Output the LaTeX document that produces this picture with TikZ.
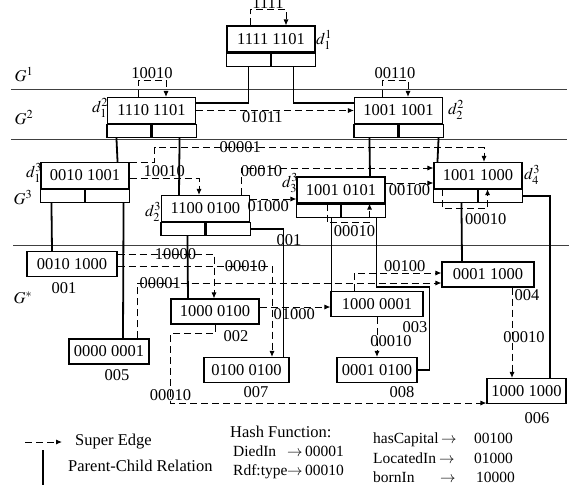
\documentclass[tikz,border=0pt]{standalone}
\usepackage{mathptmx}
\usepackage[no-math]{fontspec}
\setmainfont{Liberation Serif}
\usetikzlibrary{arrows.meta}

\begin{document}
\begin{tikzpicture}[x=1pt, y=-1pt, font=\fontsize{16.5}{19}\selectfont,
    dbox/.style={draw, line width=1.1pt, minimum width=88pt, minimum height=26pt, inner sep=0pt},
    cell/.style={draw, line width=1.1pt, minimum width=44pt, minimum height=13pt, inner sep=0pt},
    vbox/.style={draw, line width=1.1pt, minimum width=80pt, minimum height=25pt, inner sep=0pt},
    se/.style={line width=0.9pt, dash pattern=on 7pt off 4pt, -{Latex[length=6pt,width=5pt]}},
    pc/.style={line width=1.8pt},
    layer/.style={line width=0.8pt, black!75},
    lbl/.style={inner sep=1pt},
    hash/.style={inner sep=0pt, anchor=west, text height=10pt, text depth=3pt, font=\fontsize{15.5}{18}\selectfont}]
  \useasboundingbox (0,0) rectangle (572,488);

  % layers
  \draw[layer] (11,89) -- (567,89);
  \draw[layer] (11,139) -- (567,139);
  \draw[layer] (13,245) -- (569,245);
  \node (g1) at (24,75) {$G^1$};
  \node (g2) at (24,118) {$G^2$};
  \node (g3) at (23,198) {$G^3$};
  \node (gs) at (23,298) {$G^*$};

  % summary nodes with two cells
  \foreach \n/\x/\y/\t in {d11/271/39/1111 1101, d12/151.5/110.5/1110 1101, d22/398.5/110.5/1001 1001,
      d13/85/175.5/0010 1001, d23/205.5/208.5/1100 0100, d33/341/190/1001 0101, d43/478/175.5/1001 1000}{
    \node[dbox] (\n) at (\x,\y) {\t};
    \node[cell, anchor=north east] (\n-l) at (\n.south) {};
    \node[cell, anchor=north west] (\n-r) at (\n.south) {};
  }
  \node[lbl] (n11) at (324,40) {$d_1^1$};
  \node[lbl] (n12) at (100,108) {$d_1^2$};
  \node[lbl] (n22) at (456,110) {$d_2^2$};
  \node[lbl] (n13) at (34,173) {$d_1^3$};
  \node[lbl] (n23) at (153,212) {$d_2^3$};
  \node[lbl] (n33) at (290,183) {$d_3^3$};
  \node[lbl] (n43) at (532,175) {$d_4^3$};
  \node[lbl] (x01) at (289,240) {001};

  % data graph G*
  \node[vbox, minimum width=90pt] (v1) at (72,264) {0010 1000};
  \node[vbox] (v5) at (109,351.5) {0000 0001};
  \node[vbox, minimum width=88pt] (v2) at (215,311.5) {1000 0100};
  \node[vbox, minimum width=85pt] (v7) at (246.5,370) {0100 0100};
  \node[vbox, minimum width=92pt] (v3) at (377,304) {1000 0001};
  \node[vbox] (v8) at (377,370) {0001 0100};
  \node[vbox, minimum width=92pt] (v4) at (488,274.5) {0001 1000};
  \node[vbox, minimum width=79pt] (v6) at (526.5,391) {1000 1000};
  \node (i1) at (64,288) {001};
  \node (i5) at (117,375) {005};
  \node (i2) at (236,336) {002};
  \node (i7) at (256,392) {007};
  \node (i3) at (415,327) {003};
  \node (i8) at (402,392) {008};
  \node (i4) at (527,295) {004};
  \node (i6) at (537,418) {006};

  % parent-child
  \draw[pc] (d11-l.south) |- ([yshift=7.5pt]d12.east);
  \draw[pc] (d11-r.south) |- ([yshift=7.5pt]d22.west);
  \draw[pc] ([xshift=-12.5pt]d12-l.south) -- ([xshift=-12pt]d13.north east);
  \draw[pc] ([xshift=5.5pt]d12-r.south) -- ([xshift=-26.5pt]d23.north);
  \draw[pc] ([xshift=-6.5pt]d22-l.south) -- ([xshift=29pt]d33.north);
  \draw[pc] ([xshift=17.5pt]d22-r.south) -- ([xshift=4pt]d43.north west);
  \draw[pc] ([xshift=-11pt]d13-l.south) -- ([xshift=-20pt]v1.north);
  \draw[pc] ([xshift=16pt]d13-r.south) -- ([xshift=14pt]v5.north);
  \draw[pc] ([xshift=4.5pt]d23-l.south) -- ([xshift=-27pt]v2.north);
  \draw[pc] (d23-r.east) -| ([xshift=-6pt]v7.north east);
  \draw[pc] ([xshift=13pt]d33-l.south) -- ([xshift=1pt]v3.north west);
  \draw[pc] ([xshift=13pt]d33-r.south) |- ([shift={(6pt,4pt)}]v3.north east) |- (v8.east);
  \draw[pc] ([xshift=6pt]d43-l.south) -- ([xshift=-26pt]v4.north);
  \draw[pc] (d43-r.east) -| ([xshift=23.5pt]v6.north);

  % super edges
  \draw[se] ([xshift=-21pt]d11.north) -- ++(0,-16) -| node[lbl,pos=0.25,above]{1111} ([xshift=15pt]d11.north);
  \draw[se] ([xshift=-13.5pt]d12.north) -- ++(0,-16.5) -| node[lbl,pos=0.25,above]{10010} ([xshift=14.5pt]d12.north);
  \draw[se] ([xshift=-16.5pt]d22.north) -- ++(0,-16.5) -| node[lbl,pos=0.25,above]{00110} ([xshift=9.5pt]d22.north);
  \draw[se] (d12.east) -- node[lbl,pos=0.42,below]{01011} (d22.west);
  \draw[se] (d13.north east) -- ++(25,0) -- ++(0,-14.5) -- node[lbl,pos=0.26]{00001} ([shift={(6pt,14.5pt)}]d43.north) -- ([xshift=6pt]d43.north);
  \draw[se] ([yshift=-2.5pt]d13.east) -| node[lbl,pos=0.25,above]{10010} ([xshift=-6.5pt]d23.north);
  \draw[se] ([xshift=35.5pt]d23.north) |- node[lbl,pos=0.553,yshift=-3.5pt]{00010} ([yshift=7.5pt]d43.west);
  \draw[se] ([yshift=9.5pt]d23.east) -- node[lbl,pos=0.39,below]{01000} ([yshift=-9pt]d33.west);
  \draw[se] ([yshift=7pt]d33.east) -- node[lbl,below]{00100} ([yshift=-7.5pt]d43.west);
  \draw[se] ([xshift=9pt]d33-l.north) -- ++(0,19) -| node[lbl,pos=0.32,below=2pt]{00010} ([xshift=6pt]d33-r.north);
  \draw[se] ([xshift=-13pt]d43-l.north) -- ++(0,19.5) -| node[lbl,pos=0.48,below=4pt]{00010} ([xshift=-13pt]d43-r.north);
  \draw[se] ([yshift=10pt]v1.east) -| node[lbl,pos=0.3]{10000} ([xshift=-1pt]v2.north);
  \draw[se] ([yshift=-2pt]v1.east) -| node[lbl,pos=0.414]{00010} ([xshift=25.5pt]v7.north);
  \draw[se] ([xshift=28pt]v5.north) |- node[lbl,pos=0.538]{00001} ([yshift=-8.5pt]v4.west);
  \draw[se] ([yshift=4.5pt]v2.east) -- node[lbl,pos=0.49,below]{01000} ([yshift=-3pt]v3.west);
  \draw[se] (v2.south) |- ([yshift=-9pt]v2.south west) |- node[lbl,pos=0.443]{00010} ([yshift=-12pt]v6.west);
  \draw[se] ([xshift=-23pt]v3.north) |- node[lbl,pos=0.79,above]{00100} ([yshift=1.5pt]v4.west);
  \draw[se] (v3.south) -- node[lbl,pos=0.6,xshift=14pt]{00010} (v8.north);
  \draw[se] ([xshift=24pt]v4.south) -- node[lbl,pos=0.55,xshift=12pt]{00010} ([xshift=-14.5pt]v6.north);

  % legend
  \node[anchor=west, inner sep=0pt] (lg-se) at (75,442) {Super Edge};
  \node[anchor=west, inner sep=0pt] (lg-pc) at (68,466) {Parent-Child Relation};
  \draw[se] ([xshift=-50pt]lg-se.west) -- ([xshift=-13pt]lg-se.west);
  \draw[pc] ([shift={(-25pt,16pt)}]lg-pc.west) -- ([shift={(-25pt,-19pt)}]lg-pc.west);
  \node[anchor=west, inner sep=0pt] (hf) at (230,432) {Hash Function:};
  \node[hash] (h1) at (233,453) {DiedIn};
  \node[hash] (h1a) at (287,453) {$\rightarrow$};
  \node[hash] (h1c) at (305,453) {00001};
  \node[hash] (h2) at (233,472) {Rdf:type};
  \node[hash] (h2a) at (287,472) {$\rightarrow$};
  \node[hash] (h2c) at (305,472) {00010};
  \node[hash] (h3) at (373,440) {hasCapital};
  \node[hash] (h3a) at (441,440) {$\rightarrow$};
  \node[hash] (h3c) at (474,440) {00100};
  \node[hash] (h4) at (373,460) {LocatedIn};
  \node[hash] (h4a) at (439,460) {$\rightarrow$};
  \node[hash] (h4c) at (474,460) {01000};
  \node[hash] (h5) at (373,479) {bornIn};
  \node[hash] (h5a) at (440,479) {$\rightarrow$};
  \node[hash] (h5c) at (476,479) {10000};
\end{tikzpicture}
\end{document}
